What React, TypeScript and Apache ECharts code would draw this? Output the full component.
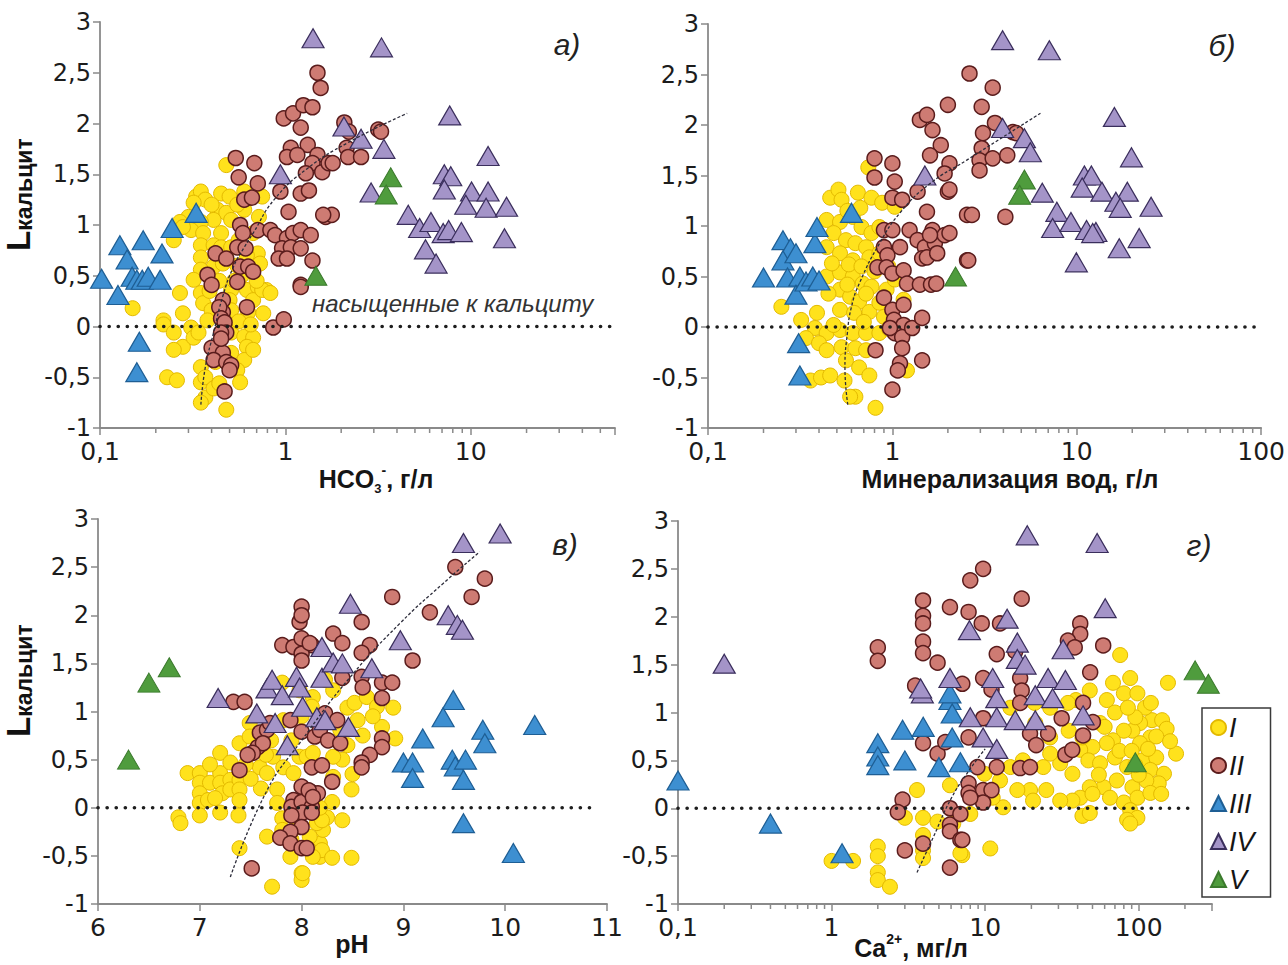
import { useEffect, useRef } from "react";
import * as echarts from "echarts";

type Pt = [number, number];

// ---------- а) L кальцит vs HCO3-, г/л ----------
const A_I: Pt[] = [
  [0.48, 1.59], [0.33, 1.28], [0.35, 1.33], [0.37, 1.25], [0.32, 1.22], [0.45, 1.31], [0.5, 1.28], [0.6, 1.33], [0.75, 1.28],
  [0.3, 1.08], [0.27, 1.03], [0.43, 1.15], [0.48, 1.12], [0.41, 1.05], [0.35, 1.03], [0.31, 0.95], [0.36, 0.92], [0.45, 0.92],
  [0.51, 1.05], [0.72, 1.08], [0.67, 0.92], [0.25, 0.85], [0.35, 0.8], [0.41, 0.8], [0.45, 0.78], [0.51, 0.78], [0.71, 0.72],
  [0.35, 0.68], [0.41, 0.59], [0.46, 0.62], [0.35, 0.56], [0.73, 0.62], [0.32, 0.46], [0.51, 0.36], [0.62, 0.36], [0.71, 0.39],
  [0.79, 0.36], [0.27, 0.33], [0.35, 0.33], [0.5, 0.26], [0.67, 0.26], [0.36, 0.23], [0.28, 0.13], [0.15, 0.18], [0.22, 0.06],
  [0.22, 0.02], [0.25, -0.06], [0.31, -0.01], [0.28, -0.2], [0.32, -0.11], [0.25, -0.23], [0.51, -0.06], [0.6, -0.1], [0.67, -0.11],
  [0.62, -0.2], [0.51, -0.26], [0.6, -0.33], [0.35, -0.4], [0.23, -0.5], [0.26, -0.53], [0.35, -0.55], [0.37, -0.5], [0.37, -0.7],
  [0.41, -0.61], [0.35, -0.75], [0.48, -0.82], [0.44, -0.56], [0.55, -0.43], [0.34, -0.06], [0.67, -0.23], [0.75, 0.36], [0.83, 0.33],
  [0.4, 0.16], [0.38, 0.06], [0.51, 0.16], [0.63, 0.14], [0.76, 0.13], [0.55, 0.6], [0.58, 0.5], [0.62, 0.7], [0.56, 0.85],
  [0.66, 0.55], [0.7, 0.45], [0.53, 0.45], [0.44, 0.45], [0.39, 0.35], [0.47, 0.05], [0.56, 0.05], [0.65, 0.02], [0.6, 1.15],
  [0.55, 1.2], [0.4, 1.2], [0.28, 0.98], [0.57, -0.55], [0.42, -0.35],
];
const A_II: Pt[] = [
  [1.49, 2.5], [1.55, 2.35], [0.98, 2.05], [1.1, 2.1], [1.25, 2.18], [1.4, 2.16], [1.21, 1.96], [1.32, 1.79], [1.49, 1.69],
  [1.07, 1.76], [1.02, 1.67], [1.16, 1.69], [1.4, 1.61], [1.29, 1.51], [1.58, 1.52], [1.71, 1.61], [0.54, 1.66], [0.68, 1.61],
  [0.56, 1.47], [0.71, 1.41], [0.6, 1.25], [0.66, 1.27], [0.94, 1.33], [1.21, 1.31], [1.34, 1.34], [1.04, 1.13], [1.65, 1.08],
  [1.78, 1.1], [0.57, 1.0], [0.59, 0.92], [0.71, 0.95], [0.83, 0.95], [0.88, 0.9], [1.02, 0.87], [1.1, 0.92], [1.21, 0.95],
  [1.37, 0.9], [0.55, 0.78], [0.61, 0.77], [0.96, 0.77], [1.07, 0.78], [1.21, 0.77], [0.92, 0.67], [1.02, 0.67], [1.4, 0.65],
  [0.42, 0.72], [0.48, 0.67], [0.57, 0.59], [0.63, 0.59], [0.67, 0.54], [0.38, 0.51], [0.4, 0.41], [0.55, 0.44], [1.21, 0.41],
  [0.62, 0.19], [0.46, 0.26], [0.46, 0.14], [0.44, 0.19], [0.45, 0.08], [0.47, 0.04], [0.48, -0.06], [0.45, -0.06], [0.86, -0.01],
  [0.98, 0.07], [0.4, -0.21], [0.46, -0.26], [0.41, -0.33], [0.48, -0.35], [0.51, -0.38], [0.5, -0.43], [0.47, -0.64], [0.45, -0.12],
  [2.08, 2.01], [2.2, 1.92], [3.17, 1.94], [3.28, 1.92], [2.14, 1.76], [2.18, 1.67], [2.56, 1.67], [1.8, 1.61], [1.6, 1.1], [1.21, 0.39],
];
const A_III: Pt[] = [
  [0.102, 0.47], [0.125, 0.31], [0.128, 0.8], [0.14, 0.66], [0.149, 0.49], [0.158, 0.46], [0.171, 0.85], [0.169, 0.46],
  [0.182, 0.49], [0.211, 0.46], [0.216, 0.72], [0.245, 0.97], [0.33, 1.12], [0.163, -0.15], [0.158, -0.45],
];
const A_IV: Pt[] = [
  [1.41, 2.84], [0.94, 1.5], [3.3, 2.75], [2.07, 1.97], [2.56, 1.85], [3.4, 1.75], [7.7, 2.08], [2.9, 1.32], [12.4, 1.68],
  [7.2, 1.5], [7.8, 1.48], [7.2, 1.35], [10.1, 1.33], [12.4, 1.33], [9.4, 1.2], [12.1, 1.17], [15.6, 1.18], [4.6, 1.1],
  [5.3, 0.97], [6.1, 1.03], [7.1, 0.92], [7.6, 0.95], [8.9, 0.93], [5.7, 0.76], [6.5, 0.62], [15.2, 0.87],
];
const A_V: Pt[] = [[3.7, 1.47], [3.5, 1.3], [1.46, 0.5]];
const A_TREND: Pt[] = [
  [0.35, -0.77], [0.37, -0.4], [0.41, -0.06], [0.46, 0.3], [0.525, 0.59], [0.6, 0.78], [0.67, 0.92], [0.87, 1.25],
  [1.3, 1.55], [2.17, 1.81], [4.54, 2.1],
];
const A_ZERO: Pt[] = [[0.1, 0], [60, 0]];
const A_MINOR = [0.2, 0.3, 0.4, 0.5, 0.6, 0.7, 0.8, 0.9, 2, 3, 4, 5, 6, 7, 8, 9, 20, 30, 40, 50];

// ---------- б) L кальцит vs минерализация вод, г/л ----------
const B_I: Pt[] = [
  [0.74, 1.58], [0.46, 1.28], [0.51, 1.36], [0.53, 1.26], [0.65, 1.33], [0.77, 1.28], [0.88, 1.23], [1.03, 1.19], [0.44, 1.06],
  [0.52, 1.04], [0.61, 1.09], [0.68, 0.99], [0.77, 0.93], [0.85, 0.99], [0.48, 0.93], [0.56, 0.86], [0.63, 0.83], [0.72, 0.79],
  [0.44, 0.79], [0.52, 0.73], [0.61, 0.66], [0.75, 0.69], [0.85, 0.73], [0.44, 0.5], [0.52, 0.54], [0.61, 0.5], [0.69, 0.43],
  [0.77, 0.4], [0.93, 0.37], [1.03, 0.47], [0.52, 0.37], [0.59, 0.3], [0.66, 0.25], [0.75, 0.15], [0.85, 0.24], [1.15, 0.27],
  [0.52, 0.17], [0.62, 0.14], [0.25, 0.2], [0.32, 0.07], [0.39, 0.14], [0.38, -0.01], [0.44, -0.06], [0.52, -0.03], [0.61, -0.06],
  [0.72, -0.06], [0.85, -0.06], [0.34, -0.11], [0.4, -0.16], [0.44, -0.23], [0.53, -0.2], [0.63, -0.21], [0.72, -0.23], [0.56, -0.33],
  [0.66, -0.4], [0.75, -0.48], [1.2, -0.43], [0.36, -0.53], [0.41, -0.5], [0.46, -0.48], [0.55, -0.53], [0.63, -0.69], [0.81, -0.8],
  [0.59, -0.69], [0.57, 1.15], [0.67, 1.18], [0.58, 0.62], [0.68, 0.6], [0.8, 0.55], [0.47, 0.63], [0.57, 0.42], [0.72, 0.33],
  [0.95, 0.6], [0.45, 0.33], [0.9, 0.1], [0.96, -0.02], [0.48, 0.02], [0.7, 0.05],
];
const B_II: Pt[] = [
  [0.8, 1.67], [0.8, 1.48], [1.0, 1.62], [1.03, 1.44], [1.0, 1.28], [1.13, 1.26], [1.37, 1.34], [1.54, 1.14], [1.41, 2.05],
  [1.54, 2.1], [1.65, 1.95], [2.0, 2.2], [1.83, 1.8], [1.6, 1.7], [2.04, 1.62], [1.92, 1.52], [2.0, 1.34], [2.62, 2.51],
  [3.5, 2.37], [2.54, 1.11], [0.9, 0.96], [1.0, 0.96], [1.1, 0.79], [1.24, 0.96], [1.37, 0.86], [1.5, 0.79], [1.45, 0.68],
  [1.54, 0.69], [1.65, 0.96], [1.7, 0.83], [1.75, 0.73], [1.92, 0.91], [1.6, 0.91], [0.9, 0.79], [0.94, 0.71], [0.83, 0.59],
  [0.93, 0.59], [1.0, 0.53], [1.15, 0.56], [1.2, 0.43], [1.41, 0.42], [1.62, 0.42], [1.73, 0.43], [2.54, 0.66], [0.9, 0.29],
  [1.0, 0.17], [1.15, 0.22], [1.02, 0.07], [1.15, 0.02], [1.03, -0.06], [1.13, -0.1], [1.28, -0.01], [1.45, 0.09], [0.97, -0.01],
  [1.13, -0.21], [0.81, -0.23], [1.45, -0.33], [1.1, -0.36], [1.07, -0.43], [1.0, -0.62], [3.05, 2.18], [3.6, 2.02], [3.1, 1.92],
  [4.5, 1.93], [4.7, 1.92], [3.05, 1.77], [2.97, 1.65], [2.97, 1.55], [3.5, 1.67], [4.2, 1.7], [2.7, 1.11], [4.1, 1.09],
  [2.58, 0.66], [2.04, 0.93], [2.04, 1.36],
];
const B_III: Pt[] = [
  [0.2, 0.49], [0.255, 0.86], [0.28, 0.78], [0.255, 0.66], [0.27, 0.49], [0.3, 0.73], [0.315, 0.5], [0.3, 0.32], [0.34, 0.45],
  [0.37, 0.5], [0.4, 0.46], [0.38, 0.83], [0.39, 0.99], [0.6, 1.13], [0.31, -0.16], [0.315, -0.48],
];
const B_IV: Pt[] = [
  [1.5, 1.5], [3.96, 2.84], [7.1, 2.74], [3.96, 1.97], [5.2, 1.87], [5.6, 1.73], [16, 2.08], [19.8, 1.68], [11, 1.5], [12, 1.5],
  [10.7, 1.38], [13.7, 1.34], [18.8, 1.34], [16.3, 1.24], [17.2, 1.18], [25.3, 1.19], [6.5, 1.33], [7.8, 1.14], [7.4, 0.98],
  [9.3, 1.04], [11.3, 0.96], [12.7, 0.94], [12.2, 0.93], [21.8, 0.88], [17, 0.78], [9.95, 0.64],
];
const B_V: Pt[] = [[2.2, 0.5], [5.2, 1.46], [4.9, 1.31]];
const B_TREND: Pt[] = [
  [0.573, -0.77], [0.553, -0.4], [0.57, -0.06], [0.6, 0.2], [0.665, 0.44], [0.853, 0.83], [1.1, 1.13], [1.6, 1.42],
  [2.52, 1.65], [6.4, 2.12],
];
const B_ZERO: Pt[] = [[0.1, 0], [100, 0]];
const B_MINOR = [0.2, 0.3, 0.4, 0.5, 0.6, 0.7, 0.8, 0.9, 2, 3, 4, 5, 6, 7, 8, 9, 20, 30, 40, 50, 60, 70, 80, 90];

// ---------- в) L кальцит vs pH ----------
const C_I: Pt[] = [
  [6.88, 0.36], [7.0, 0.36], [7.0, 0.26], [7.0, 0.15], [7.0, 0.05], [7.0, -0.08], [6.79, -0.1], [6.81, -0.16], [7.1, 0.26],
  [7.08, 0.08], [7.2, 0.36], [7.2, 0.26], [7.22, 0.15], [7.2, -0.05], [7.3, 0.29], [7.3, 0.19], [7.39, 0.29], [7.39, 0.19],
  [7.39, 0.08], [7.38, -0.08], [7.2, 0.57], [7.3, 0.47], [7.39, 0.67], [7.49, 0.88], [7.49, 0.74], [7.59, 0.42], [7.66, 0.36],
  [7.72, 0.53], [7.81, 1.3], [7.82, 0.42], [7.92, 0.36], [7.98, 0.53], [8.11, 1.15], [8.1, 1.05], [7.82, 0.91], [7.76, 0.19],
  [7.76, 0.05], [7.81, -0.11], [7.81, -0.23], [7.66, -0.3], [7.9, -0.33], [7.89, -0.51], [8.0, -0.68], [8.0, -0.75], [7.71, -0.82],
  [7.39, -0.42], [8.18, -0.37], [8.18, -0.51], [8.08, -0.44], [8.21, -0.23], [8.25, -0.1], [8.15, -0.16], [7.98, 1.22], [8.23, 1.33],
  [8.31, 1.22], [8.45, 1.04], [8.52, 1.09], [8.64, 1.15], [8.74, 1.05], [8.9, 1.04], [8.55, 0.91], [8.79, 0.84], [8.92, 0.72],
  [8.38, 0.81], [8.05, 0.53], [8.11, 0.57], [8.4, 0.5], [8.49, 0.19], [8.31, 0.32], [8.3, 0.06], [8.2, -0.13], [8.4, -0.13],
  [8.08, -0.3], [8.2, -0.44], [8.11, -0.51], [8.3, -0.52], [8.49, -0.52], [8.01, -0.68], [8.31, 0.53], [8.18, 0.0], [7.55, 0.6],
  [7.65, 0.55], [7.45, 0.45], [7.6, 0.2], [7.5, 0.3], [7.1, 0.45], [7.15, 0.1], [7.9, 0.7], [8.0, 0.95], [7.7, 0.7], [8.45, 0.65],
  [8.6, 0.75], [8.7, 0.95], [8.5, 0.35], [7.95, -0.2],
];
const C_II: Pt[] = [
  [8.0, 2.09], [7.98, 1.93], [8.0, 2.0], [7.81, 1.69], [7.92, 1.67], [8.0, 1.76], [8.1, 1.69], [8.0, 1.6], [8.0, 1.53],
  [7.33, 1.1], [7.44, 1.1], [7.89, 0.91], [7.59, 0.78], [7.66, 0.81], [7.69, 0.88], [7.57, 0.63], [7.62, 0.67], [7.52, 0.57],
  [7.47, 0.55], [7.39, 0.39], [8.0, 0.79], [8.13, 0.74], [8.1, 0.42], [8.2, 0.44], [7.92, 0.08], [8.0, 0.22], [8.1, 0.16],
  [8.16, 0.15], [7.9, 0.01], [8.0, 0.06], [8.1, 0.01], [8.01, -0.05], [7.9, -0.08], [8.1, -0.05], [8.0, -0.2], [7.89, -0.25],
  [7.79, -0.31], [7.89, -0.37], [8.0, -0.42], [7.51, -0.63], [8.18, 0.81], [8.08, 1.71], [8.31, 1.81], [8.4, 1.71], [8.59, 1.93],
  [8.89, 2.19], [8.67, 1.69], [8.59, 1.61], [9.09, 1.53], [9.26, 2.03], [9.51, 2.5], [9.8, 2.38], [9.67, 2.19], [8.4, 1.35],
  [8.59, 1.36], [8.6, 1.25], [8.79, 1.3], [8.89, 1.3], [8.79, 1.14], [8.23, 0.98], [8.35, 0.91], [8.26, 0.7], [8.38, 0.67],
  [8.79, 0.72], [8.79, 0.63], [8.67, 0.55], [8.59, 0.47], [8.59, 0.42], [8.3, 0.27], [8.07, 0.18], [8.11, 0.11], [8.05, -0.42],
];
const C_III: Pt[] = [
  [9.49, 1.12], [9.39, 0.94], [10.29, 0.86], [9.78, 0.81], [9.8, 0.67], [9.19, 0.72], [9.0, 0.47], [9.09, 0.47], [9.09, 0.31],
  [9.48, 0.5], [9.51, 0.43], [9.61, 0.5], [9.59, 0.29], [9.59, -0.16], [10.08, -0.47],
];
const C_IV: Pt[] = [
  [7.18, 1.14], [7.56, 0.98], [7.66, 1.24], [7.71, 1.33], [7.81, 1.17], [7.74, 0.88], [7.86, 0.65], [7.95, 1.36], [7.98, 1.25],
  [8.01, 1.05], [8.2, 1.67], [8.2, 1.35], [8.15, 0.94], [8.23, 0.91], [8.31, 1.51], [8.4, 1.5], [8.69, 1.45], [8.48, 2.12],
  [8.97, 1.74], [9.44, 2.0], [9.53, 1.9], [9.58, 1.85], [9.59, 2.75], [9.95, 2.85], [8.46, 0.84],
];
const C_V: Pt[] = [[6.3, 0.5], [6.5, 1.3], [6.7, 1.46]];
const C_TREND: Pt[] = [[7.3, -0.72], [7.66, 0.18], [7.98, 0.67], [8.48, 1.36], [8.97, 1.92], [9.39, 2.33], [9.75, 2.66]];
const C_ZERO: Pt[] = [[6, 0], [10.83, 0]];

// ---------- г) L кальцит vs Ca2+, мг/л ----------
const D_I: Pt[] = [
  [3.6, 0.19], [5.9, 0.24], [3.0, -0.1], [3.94, -0.1], [4.9, -0.14], [3.94, -0.28], [3.94, -0.44], [3.94, -0.52], [7.1, -0.49],
  [2.0, -0.4], [2.0, -0.5], [2.0, -0.67], [2.0, -0.75], [2.4, -0.82], [1.0, -0.55], [1.38, -0.55], [6.2, -0.16], [75.7, 1.6],
  [155, 1.31], [68, 1.31], [88, 1.36], [48, 1.23], [80, 1.2], [98, 1.2], [62, 1.13], [39, 1.13], [26.5, 1.05], [34.6, 1.1],
  [21, 1.1], [14.6, 1.05], [122, 0.92], [142, 0.92], [152, 0.83], [102, 0.89], [91, 0.81], [119, 0.74], [102, 0.68], [80, 0.81],
  [68, 0.71], [56, 0.89], [62, 0.68], [50, 0.64], [41.6, 0.61], [47, 0.5], [56, 0.47], [70, 0.53], [84, 0.43], [106, 0.5],
  [130, 0.53], [175, 0.57], [119, 0.4], [146, 0.36], [135, 0.26], [112, 0.29], [91, 0.22], [72, 0.29], [59, 0.22], [48, 0.22],
  [37, 0.36], [30.8, 0.47], [26.5, 0.57], [41.6, 0.11], [50, 0.15], [65, 0.11], [80, 0.06], [98, 0.11], [119, 0.16], [88, -0.02],
  [98, -0.1], [84, -0.12], [88, -0.16], [43, -0.08], [48, -0.05], [37, 0.08], [30.8, 0.08], [25, 0.19], [19.6, 0.19], [16.2, 0.19],
  [13.1, 0.01], [11.2, 0.11], [20.5, 0.08], [10.8, -0.42], [6.9, -0.47], [8, -0.06], [14.6, 0.43], [17.6, 0.5], [23.9, 0.43],
  [26.5, 0.74], [21.2, 0.89], [35, 0.81], [43, 0.74], [9.9, 0.36], [12.5, 0.29], [70, 1.0], [110, 1.05], [95, 0.95], [130, 0.75],
  [75, 0.6], [90, 0.6], [115, 0.62], [60, 0.85], [100, 0.35], [160, 0.7], [55, 0.35], [140, 0.15], [95, 0.45], [120, 1.1], [85, 1.05],
];
const D_II: Pt[] = [
  [2.0, 1.68], [2.0, 1.54], [3.94, 2.17], [3.94, 2.01], [3.94, 1.93], [3.94, 1.74], [3.94, 1.62], [5.9, 2.1], [4.9, 1.52],
  [3.5, 1.28], [7.1, 1.3], [3.94, 0.68], [4.9, 0.57], [5.5, 0.69], [2.9, 0.09], [2.7, -0.04], [3.0, -0.44], [3.94, -0.37],
  [5.9, 0.0], [5.9, -0.17], [5.9, -0.24], [6.9, -0.06], [6.9, -0.33], [5.9, -0.62], [7.8, 2.05], [7.8, 0.74], [7.8, 0.26],
  [7.8, 0.16], [8.0, 2.38], [9.7, 2.5], [17.3, 2.19], [9.5, 1.93], [12.5, 1.93], [11.9, 1.61], [15.7, 1.64], [41.6, 1.93],
  [41.6, 1.82], [34.6, 1.75], [38.3, 1.68], [58.7, 1.7], [48.3, 1.42], [9.7, 1.36], [11, 1.24], [16.9, 1.36], [17.3, 1.23],
  [43.4, 1.1], [50.3, 0.9], [16.9, 1.1], [9.7, 0.94], [19.6, 0.78], [21.5, 0.66], [25.7, 0.78], [31.5, 0.94], [43.4, 0.76],
  [33.3, 0.56], [36.9, 0.61], [16.9, 0.42], [19.6, 0.43], [8.9, 0.43], [11.9, 0.43], [9.7, 0.19], [11, 0.19], [9.7, 0.06],
  [8.0, 0.11], [7.1, -0.33],
];
const D_III: Pt[] = [
  [0.1, 0.29], [0.4, -0.16], [1.17, -0.47], [2.0, 0.68], [2.0, 0.54], [2.0, 0.45], [2.9, 0.82], [3.0, 0.5], [3.95, 0.85],
  [5.0, 0.43], [5.9, 1.13], [6.1, 0.99], [6.1, 0.74], [6.9, 0.48], [5.9, 1.2],
];
const D_IV: Pt[] = [
  [0.2, 1.51], [3.9, 1.2], [3.8, 1.25], [5.9, 1.36], [7.9, 1.86], [18.8, 2.85], [53.6, 2.77], [60.5, 2.09], [13.9, 1.98],
  [16.2, 1.73], [16.2, 1.56], [18.2, 1.5], [32.2, 1.66], [11.2, 1.36], [25.7, 1.36], [33.3, 1.34], [21.2, 1.18], [27.5, 1.15],
  [11.9, 1.15], [8.0, 0.95], [11.9, 0.95], [15.7, 0.92], [21.2, 0.92], [43.4, 0.97], [9.7, 0.74], [11.9, 0.62],
];
const D_V: Pt[] = [[233, 1.44], [284, 1.3], [95, 0.48]];
const D_TREND: Pt[] = [[3.6, -0.67], [4.6, -0.3], [6.0, 0.1], [7.9, 0.4], [10, 0.62]];
const D_ZERO: Pt[] = [[0.1, 0], [210, 0]];
const D_MINOR = [0.2, 0.3, 0.4, 0.5, 0.6, 0.7, 0.8, 0.9, 2, 3, 4, 5, 6, 7, 8, 9, 20, 30, 40, 50, 60, 70, 80, 90, 200];

const GROUP_NAMES = ["I", "II", "III", "IV", "V"];
const Y_TICKS = { min: -1, max: 3, interval: 0.5 };

// marker appearance per water group
const MARKERS = [
  { symbol: "circle", size: 15, fill: "#FFE21C", stroke: "#E3B900", width: 1 },
  { symbol: "circle", size: 15, fill: "#CE7B73", stroke: "#5A1C1C", width: 1.5 },
  { symbol: "triangle", size: [22, 19], fill: "#3D8FD1", stroke: "#1E5E94", width: 1.2 },
  { symbol: "triangle", size: [22, 19], fill: "#A494C8", stroke: "#3A2E5C", width: 1.2 },
  { symbol: "triangle", size: [22, 19], fill: "#4F9C3D", stroke: "#3B7A2D", width: 1 },
];

const PANELS = [
  { groups: [A_I, A_II, A_III, A_IV, A_V], trend: A_TREND, zero: A_ZERO, minor: A_MINOR, xType: "log", xMin: 0.1, xMax: 60 },
  { groups: [B_I, B_II, B_III, B_IV, B_V], trend: B_TREND, zero: B_ZERO, minor: B_MINOR, xType: "log", xMin: 0.1, xMax: 100 },
  { groups: [C_I, C_II, C_III, C_IV, C_V], trend: C_TREND, zero: C_ZERO, minor: [] as number[], xType: "value", xMin: 6, xMax: 11 },
  { groups: [D_I, D_II, D_III, D_IV, D_V], trend: D_TREND, zero: D_ZERO, minor: D_MINOR, xType: "log", xMin: 0.1, xMax: 300 },
];

const GRIDS = [
  { left: 100, top: 22, width: 515, height: 406 },
  { left: 708, top: 24, width: 554, height: 404 },
  { left: 98, top: 519, width: 509, height: 385 },
  { left: 678, top: 521, width: 534, height: 383 },
];

const NUM_FONT = '"DejaVu Sans", sans-serif';
const TXT_FONT = '"Liberation Sans", Arial, sans-serif';
const AXIS_GREY = "#8a8a8a";

function fmtLog(v: number): string {
  const e = Math.log10(v);
  const r = Math.round(e);
  if (Math.abs(e - r) > 1e-6) return "";
  return r < 0 ? "0," + "0".repeat(-r - 1) + "1" : String(Math.pow(10, r));
}
function fmtDec(v: number): string {
  return String(v).replace(".", ",");
}

function buildOption() {
  const xAxis: any[] = [];
  const yAxis: any[] = [];
  const series: any[] = [];

  PANELS.forEach((p, i) => {
    xAxis.push({
      type: p.xType,
      logBase: 10,
      gridIndex: i,
      min: p.xMin,
      max: p.xMax,
      ...(p.xType === "value" ? { interval: 1 } : {}),
      axisLine: { onZero: false, lineStyle: { color: AXIS_GREY, width: 1.8 } },
      axisTick: { length: 7, lineStyle: { color: AXIS_GREY, width: 1.5 } },
      axisLabel: {
        formatter: p.xType === "log" ? fmtLog : (v: number) => String(v),
        fontSize: 25,
        lineHeight: 20,
        fontFamily: NUM_FONT,
        color: "#1c1c1c",
        margin: 13,
      },
      splitLine: { show: false },
    });
    yAxis.push({
      type: "value",
      gridIndex: i,
      ...Y_TICKS,
      axisLine: { show: true, onZero: false, lineStyle: { color: AXIS_GREY, width: 1.8 } },
      axisTick: { show: true, length: 7, lineStyle: { color: AXIS_GREY, width: 1.5 } },
      axisLabel: { formatter: fmtDec, fontSize: 24, lineHeight: 20, fontFamily: NUM_FONT, color: "#1c1c1c", margin: 9 },
      splitLine: { show: false },
    });

    const scatter = (g: number) => {
      const m = MARKERS[g];
      return {
        type: "scatter",
        name: GROUP_NAMES[g],
        xAxisIndex: i,
        yAxisIndex: i,
        data: p.groups[g],
        symbol: m.symbol,
        symbolSize: m.size,
        itemStyle: { color: m.fill, borderColor: m.stroke, borderWidth: m.width, opacity: 1 },
        silent: true,
      };
    };

    series.push(scatter(0));
    series.push(scatter(1));
    // saturation boundary, L = 0
    series.push({
      type: "line",
      xAxisIndex: i,
      yAxisIndex: i,
      data: p.zero,
      symbol: "none",
      silent: true,
      lineStyle: { color: "#1e1e1e", width: 3.6, type: [0.1, 9], cap: "round" },
    });
    // fitted trend
    series.push({
      type: "line",
      xAxisIndex: i,
      yAxisIndex: i,
      data: p.trend,
      symbol: "none",
      smooth: true,
      silent: true,
      lineStyle: { color: "#2c2c3a", width: 1.3, type: [3, 2] },
    });
    series.push(scatter(2));
    series.push(scatter(3));
    series.push(scatter(4));

    if (p.minor.length) {
      series.push({
        type: "custom",
        xAxisIndex: i,
        yAxisIndex: i,
        coordinateSystem: "cartesian2d",
        data: p.minor.map((v) => [v, Y_TICKS.min]),
        clip: false,
        silent: true,
        renderItem: (_params: any, api: any) => {
          const c = api.coord([api.value(0), api.value(1)]);
          return {
            type: "line",
            shape: { x1: c[0], y1: c[1], x2: c[0], y2: c[1] + 5 },
            style: { stroke: AXIS_GREY, lineWidth: 1.5 },
          };
        },
      });
    }
  });

  const yTitle = (x: number, y: number) => ({
    type: "text",
    x,
    y,
    rotation: Math.PI / 2,
    style: {
      text: "{l|L}{k|кальцит}",
      align: "left",
      verticalAlign: "bottom",
      rich: {
        l: { fontSize: 33, fontWeight: "bold", fontFamily: TXT_FONT, fill: "#111", lineHeight: 34, verticalAlign: "bottom" },
        k: { fontSize: 23, fontWeight: "bold", fontFamily: TXT_FONT, fill: "#111", lineHeight: 26, verticalAlign: "bottom" },
      },
    },
  });

  const boldRich = {
    t: { fontSize: 25, fontWeight: "bold", fontFamily: TXT_FONT, fill: "#151515", lineHeight: 32 },
    s: { fontSize: 13, fontWeight: "bold", fontFamily: TXT_FONT, fill: "#151515", lineHeight: 13, verticalAlign: "bottom" },
    p: { fontSize: 14, fontWeight: "bold", fontFamily: TXT_FONT, fill: "#151515", lineHeight: 14, verticalAlign: "top" },
  };

  const title = (x: number, y: number, text: string) => ({
    type: "text",
    x,
    y,
    style: { text, align: "center", verticalAlign: "middle", rich: boldRich },
  });

  const panelTag = (x: number, y: number, text: string) => ({
    type: "text",
    x,
    y,
    style: {
      text,
      align: "center",
      verticalAlign: "middle",
      fontSize: 30,
      fontStyle: "italic",
      fontFamily: TXT_FONT,
      fill: "#222",
    },
  });

  const graphic = [
    panelTag(567, 44, "а)"),
    panelTag(1222, 45, "б)"),
    panelTag(565, 544, "в)"),
    panelTag(1199, 545, "г)"),
    yTitle(35, 251),
    yTitle(35, 737),
    title(376, 479, "{t|HCO}{s|3}{p|-}{t|, г/л}"),
    title(1010, 479, "{t|Минерализация вод, г/л}"),
    title(352, 944, "{t|pH}"),
    title(911, 948, "{t|Ca}{p|2+}{t|, мг/л}"),
    {
      type: "text",
      x: 312,
      y: 303,
      style: {
        text: "насыщенные к кальциту",
        align: "left",
        verticalAlign: "middle",
        fontSize: 24,
        fontStyle: "italic",
        fontFamily: TXT_FONT,
        fill: "#333",
      },
    },
  ];

  return {
    animation: false,
    backgroundColor: "#ffffff",
    grid: GRIDS.map((g) => ({ ...g, containLabel: false })),
    xAxis,
    yAxis,
    legend: {
      data: GROUP_NAMES,
      orient: "vertical",
      left: 1202,
      top: 708,
      padding: [6, 16, 4, 8],
      itemWidth: 15,
      itemHeight: 15,
      itemGap: 11,
      selectedMode: false,
      borderColor: "#3a3a3a",
      borderWidth: 1.5,
      backgroundColor: "#ffffff",
      textStyle: { fontSize: 27, fontStyle: "italic", fontFamily: TXT_FONT, color: "#151515", padding: [0, 0, 0, -2] },
    },
    series,
    graphic,
  };
}

export default function App() {
  const ref = useRef<HTMLDivElement>(null);
  useEffect(() => {
    if (!ref.current) return;
    const chart = echarts.init(ref.current, undefined, { renderer: "svg" });
    chart.setOption(buildOption() as any);
    return () => chart.dispose();
  }, []);
  return (
    <div
      ref={ref}
      style={{ position: "absolute", left: 0, top: 0, width: 1288, height: 965, background: "#fff" }}
    />
  );
}
